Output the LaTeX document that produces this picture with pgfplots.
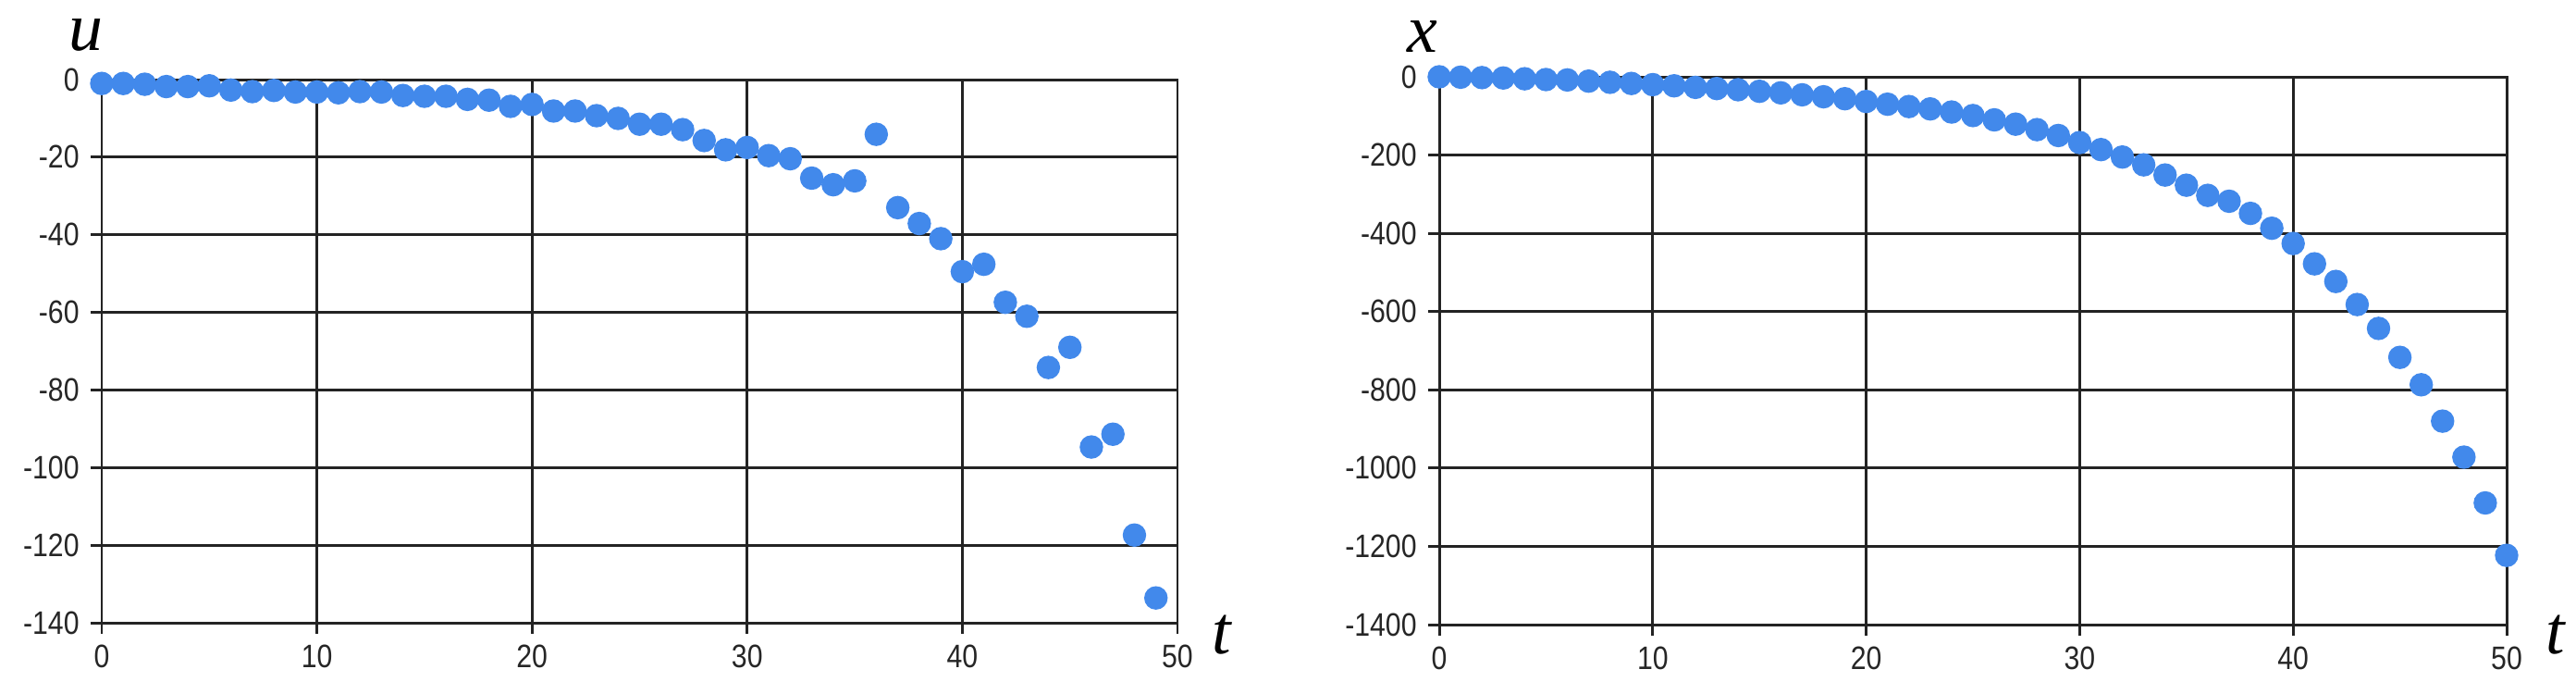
\documentclass[border=0pt]{standalone}
\usepackage{fontspec}
\setmainfont{Liberation Sans}[FakeStretch=0.86]
\newfontfamily\lblfont{Liberation Serif}
\usepackage{pgfplots}
\pgfplotsset{compat=1.18}
\definecolor{dotblue}{RGB}{66,137,235}
\definecolor{gridgray}{RGB}{35,35,35}

\pgfplotstableread{
t u
0 -1.0
1 -1.0
2 -1.2
3 -1.8
4 -1.8
5 -1.6
6 -2.7
7 -3.1
8 -2.8
9 -3.2
10 -3.2
11 -3.4
12 -3.1
13 -3.2
14 -4.1
15 -4.3
16 -4.3
17 -5.1
18 -5.3
19 -6.9
20 -6.4
21 -8.1
22 -8.1
23 -9.3
24 -10.0
25 -11.5
26 -11.5
27 -12.9
28 -15.7
29 -18.1
30 -17.5
31 -19.6
32 -20.4
33 -25.4
34 -27.1
35 -26.1
36 -14.1
37 -33.0
38 -37.1
39 -41.0
40 -49.5
41 -47.6
42 -57.4
43 -61.0
44 -74.2
45 -69.0
46 -94.7
47 -91.4
48 -117.4
49 -133.6
}\utable

\pgfplotstableread{
t x
0 0
1 -1
2 -2
3 -3
4 -5
5 -7
6 -8
7 -11
8 -14
9 -17
10 -20
11 -23
12 -27
13 -30
14 -33
15 -37
16 -41
17 -46
18 -51
19 -56
20 -63
21 -70
22 -76
23 -82
24 -90
25 -99
26 -110
27 -121
28 -135
29 -150
30 -168
31 -186
32 -205
33 -225
34 -251
35 -277
36 -303
37 -318
38 -349
39 -387
40 -426
41 -478
42 -523
43 -582
44 -643
45 -717
46 -787
47 -880
48 -972
49 -1089
50 -1223
}\xtable

\pgfplotsset{
  simplechart/.style={
    scale only axis,
    anchor=south west,
    xmin=0, xmax=50,
    xtick={0,10,20,30,40,50},
    grid=major,
    grid style={gridgray, line width=0.85pt},
    axis line style={gridgray, line width=0.85pt},
    tick align=outside,
    tick pos=left,
    major tick length=0.12cm,
    tick style={gridgray, line width=0.85pt},
    tick label style={font=\fontsize{10}{12}\selectfont, text=black!85},
    /pgf/number format/assume math mode=true,
    /pgf/number format/1000 sep={},
    clip=false,
  },
}

\begin{document}
\begin{tikzpicture}
\useasboundingbox (0,0) rectangle (27.85,7.49);

\begin{axis}[simplechart,
  at={(1.10cm,0.76cm)},
  width=11.63cm, height=5.87cm,
  ymin=-140, ymax=0,
  ytick={0,-20,-40,-60,-80,-100,-120,-140},
]
\addplot[only marks, mark=*, mark size=0.12cm, color=dotblue] table[x=t, y=u] {\utable};
\node[font=\lblfont\itshape\fontsize{21}{25}\selectfont] at (rel axis cs:-0.015,1.082) {u};
\node[font=\lblfont\itshape\fontsize{21}{25}\selectfont] at (rel axis cs:1.041,-0.022) {t};
\end{axis}

\begin{axis}[simplechart,
  at={(15.56cm,0.74cm)},
  width=11.54cm, height=5.92cm,
  ymin=-1400, ymax=0,
  ytick={0,-200,-400,-600,-800,-1000,-1200,-1400},
]
\addplot[only marks, mark=*, mark size=0.12cm, color=dotblue] table[x=t, y=x] {\xtable};
\node[font=\lblfont\itshape\fontsize{21}{25}\selectfont] at (rel axis cs:-0.016,1.073) {x};
\node[font=\lblfont\itshape\fontsize{21}{25}\selectfont] at (rel axis cs:1.046,-0.019) {t};
\end{axis}
\end{tikzpicture}
\end{document}
